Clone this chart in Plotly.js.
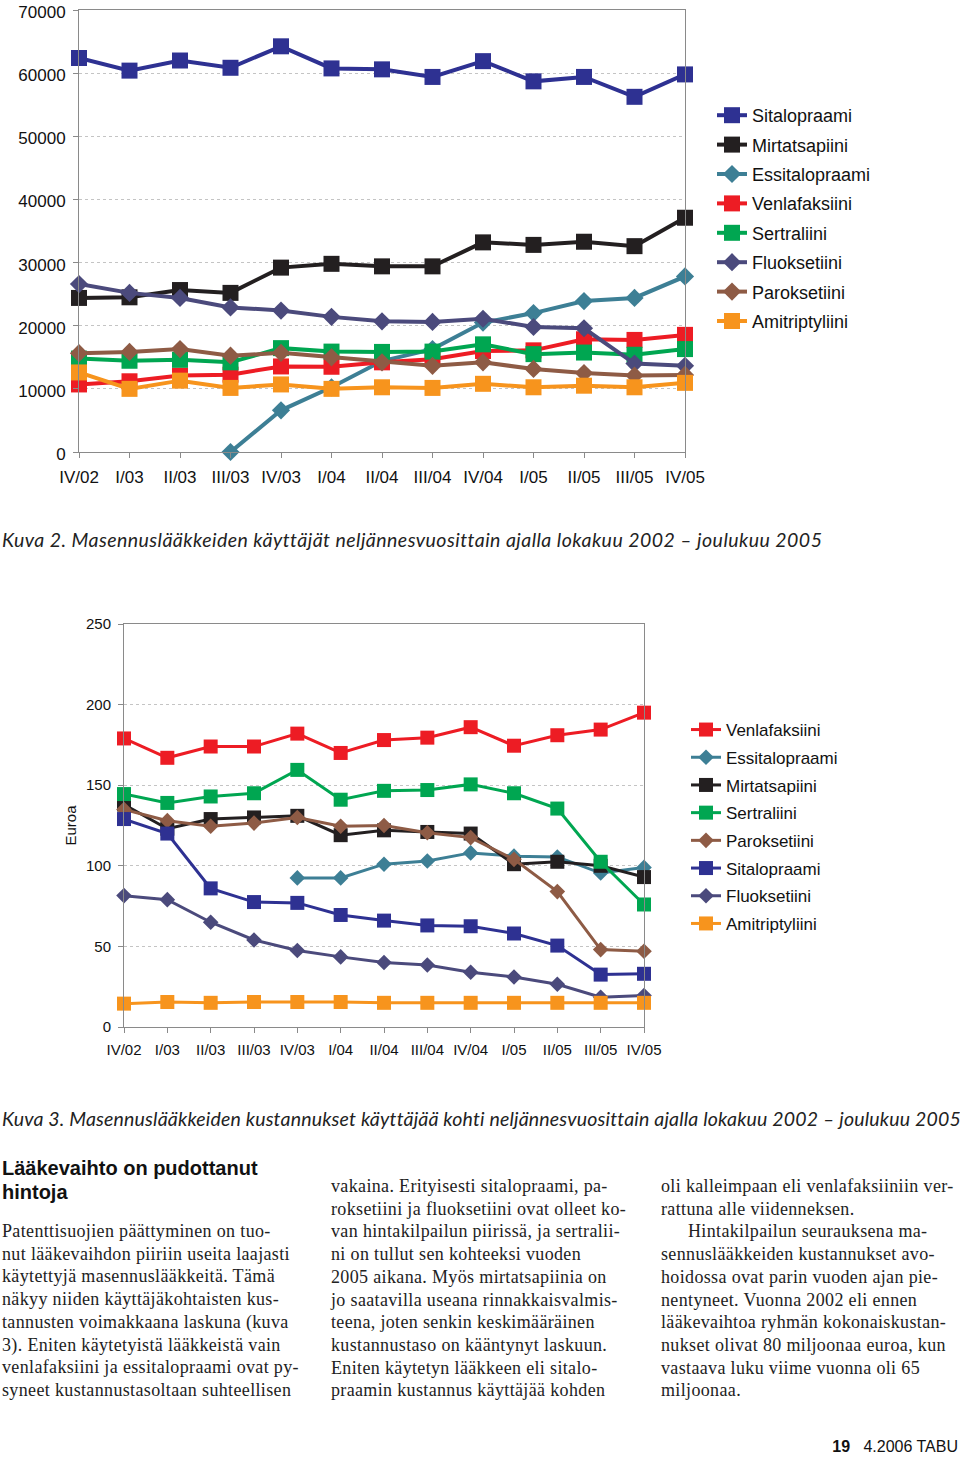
<!DOCTYPE html>
<html>
<head>
<meta charset="utf-8">
<script src="https://cdn.plot.ly/plotly-3.0.1.min.js"></script>
<style>
  html, body { margin:0; padding:0; background:#fff; }
  #page { position:relative; width:960px; height:1458px; overflow:hidden; background:#fff; }
  #plot { position:absolute; left:0; top:0; width:960px; height:1150px; }
  .cap { position:absolute; left:2px; font-family:"Lato","Open Sans",sans-serif; font-style:italic; font-size:19.5px; line-height:24px; color:#222; white-space:nowrap; }
  .head { position:absolute; left:2px; top:1156px; font-family:"Liberation Sans",Arial,sans-serif; font-weight:bold; font-size:20px; line-height:24px; color:#111; }
  .col { position:absolute; font-family:"Liberation Serif","Times New Roman",serif; font-size:18px; line-height:22.7px; letter-spacing:0.35px; color:#222; white-space:nowrap; }
  .col span { display:block; }
  .ind { padding-left:27px; }
  .foot { position:absolute; top:1436px; right:2px; font-family:"Liberation Sans",Arial,sans-serif; font-size:16px; line-height:22px; color:#111; }
</style>
</head>
<body>
<div id="page">
  <div id="plot"></div>
  <div class="cap" style="top:528px; letter-spacing:0.46px">Kuva 2. Masennuslääkkeiden käyttäjät neljännesvuosittain ajalla lokakuu 2002 – joulukuu 2005</div>
  <div class="cap" style="top:1107px; letter-spacing:0.18px">Kuva 3. Masennuslääkkeiden kustannukset käyttäjää kohti neljännesvuosittain ajalla lokakuu 2002 – joulukuu 2005</div>
  <div class="head">Lääkevaihto on pudottanut<br>hintoja</div>
  <div class="col" style="left:2px; top:1220px">
    <span>Patenttisuojien päättyminen on tuo-</span>
    <span>nut lääkevaihdon piiriin useita laajasti</span>
    <span>käytettyjä masennuslääkkeitä. Tämä</span>
    <span>näkyy niiden käyttäjäkohtaisten kus-</span>
    <span>tannusten voimakkaana laskuna (kuva</span>
    <span>3). Eniten käytetyistä lääkkeistä vain</span>
    <span>venlafaksiini ja essitalopraami ovat py-</span>
    <span>syneet kustannustasoltaan suhteellisen</span>
  </div>
  <div class="col" style="left:331px; top:1175px">
    <span>vakaina. Erityisesti sitalopraami, pa-</span>
    <span>roksetiini ja fluoksetiini ovat olleet ko-</span>
    <span>van hintakilpailun piirissä, ja sertralii-</span>
    <span>ni on tullut sen kohteeksi vuoden</span>
    <span>2005 aikana. Myös mirtatsapiinia on</span>
    <span>jo saatavilla useana rinnakkaisvalmis-</span>
    <span>teena, joten senkin keskimääräinen</span>
    <span>kustannustaso on kääntynyt laskuun.</span>
    <span>Eniten käytetyn lääkkeen eli sitalo-</span>
    <span>praamin kustannus käyttäjää kohden</span>
  </div>
  <div class="col" style="left:661px; top:1175px">
    <span>oli kalleimpaan eli venlafaksiiniin ver-</span>
    <span>rattuna alle viidenneksen.</span>
    <span class="ind">Hintakilpailun seurauksena ma-</span>
    <span>sennuslääkkeiden kustannukset avo-</span>
    <span>hoidossa ovat parin vuoden ajan pie-</span>
    <span>nentyneet. Vuonna 2002 eli ennen</span>
    <span>lääkevaihtoa ryhmän kokonaiskustan-</span>
    <span>nukset olivat 80 miljoonaa euroa, kun</span>
    <span>vastaava luku viime vuonna oli 65</span>
    <span>miljoonaa.</span>
  </div>
  <div class="foot"><b>19</b>&nbsp;&nbsp;&nbsp;4.2006 TABU</div>
</div>
<script>
// Quarter labels
const quarters = ['IV/02','I/03','II/03','III/03','IV/03','I/04','II/04','III/04','IV/04','I/05','II/05','III/05','IV/05'];

// Kuva 2: users per quarter
const sitUsers = [62400, 60400, 62000, 60850, 64250, 60750, 60600, 59400, 61900, 58700, 59400, 56250, 59800];
const mirUsers = [24400, 24500, 25650, 25200, 29200, 29800, 29400, 29400, 33200, 32800, 33300, 32600, 37100];
const essUsers = [null, null, null, 0, 6600, 10250, 14400, 16300, 20500, 22000, 23900, 24400, 27800];
const venUsers = [10700, 11200, 12100, 12250, 13550, 13500, 14200, 14700, 16000, 16100, 17850, 17750, 18550];
const serUsers = [14800, 14450, 14600, 14200, 16450, 15900, 15850, 15900, 17050, 15500, 15750, 15400, 16300];
const fluUsers = [26600, 25200, 24400, 22900, 22400, 21400, 20700, 20600, 21100, 19800, 19600, 14000, 13650];
const parUsers = [15650, 15850, 16300, 15250, 15700, 15000, 14200, 13650, 14200, 13150, 12500, 12100, 12200];
const amiUsers = [12600, 10000, 11300, 10150, 10700, 10000, 10250, 10150, 10800, 10250, 10500, 10250, 10950];

// Kuva 3: cost per user (euro)
const venCost = [179, 167, 174, 174, 182, 170, 178, 179.5, 186, 174.5, 181, 184.5, 195];
const essCost = [null, null, null, null, 92.5, 92.5, 101, 103, 108, 106, 105.5, 95.5, 99];
const mirCost = [138, 123, 129, 130, 131, 119, 122, 121, 120, 101, 102.5, 100, 93];
const serCost = [144.5, 139, 143, 145, 159.5, 141, 146.5, 147, 150.5, 145, 135.5, 102.5, 76];
const parCost = [135, 128, 124.5, 126.5, 130, 124.5, 125, 120.5, 117.5, 104, 84, 48, 47];
const sitCost = [129, 120, 86, 77.5, 77, 69.5, 66, 63, 62.5, 58, 50.5, 32.5, 33];
const fluCost = [81.5, 79, 65, 54, 47.5, 43.5, 40, 38.5, 34, 31, 26.5, 18.5, 19.5];
const amiCost = [14.5, 15.5, 15, 15.5, 15.5, 15.5, 15, 15, 15, 15, 15, 15, 15];

const colors = {
  Sitalopraami: '#2e3192', Mirtatsapiini: '#231f20', Essitalopraami: '#3d7f95',
  Venlafaksiini: '#ed1c24', Sertraliini: '#00a651', Fluoksetiini: '#4b4a7c',
  Paroksetiini: '#8e5b45', Amitriptyliini: '#f7941d'
};
const symbols = {
  Sitalopraami: 'square', Mirtatsapiini: 'square', Essitalopraami: 'diamond',
  Venlafaksiini: 'square', Sertraliini: 'square', Fluoksetiini: 'diamond',
  Paroksetiini: 'diamond', Amitriptyliini: 'square'
};
const xIdx = quarters.map((q, i) => i);

function tr(name, y, chart, rank) {
  const c1 = chart === 1;
  const sq = symbols[name] === 'square';
  return {
    type: 'scatter', mode: 'lines+markers', name: name, x: xIdx, y: y,
    xaxis: c1 ? 'x' : 'x2', yaxis: c1 ? 'y' : 'y2',
    legend: c1 ? 'legend' : 'legend2', legendgroup: name + chart, legendrank: rank,
    line: { color: colors[name], width: c1 ? 4 : 3 },
    marker: { color: colors[name], symbol: symbols[name], size: c1 ? (sq ? 16 : 14) : (sq ? 14 : 12) },
    cliponaxis: false, connectgaps: false, hoverinfo: 'skip'
  };
}

const data = [
  tr('Sitalopraami', sitUsers, 1, 1),
  tr('Mirtatsapiini', mirUsers, 1, 2),
  tr('Essitalopraami', essUsers, 1, 3),
  tr('Venlafaksiini', venUsers, 1, 4),
  tr('Sertraliini', serUsers, 1, 5),
  tr('Fluoksetiini', fluUsers, 1, 6),
  tr('Paroksetiini', parUsers, 1, 7),
  tr('Amitriptyliini', amiUsers, 1, 8),
  tr('Venlafaksiini', venCost, 2, 1),
  tr('Essitalopraami', essCost, 2, 2),
  tr('Mirtatsapiini', mirCost, 2, 3),
  tr('Sertraliini', serCost, 2, 4),
  tr('Paroksetiini', parCost, 2, 5),
  tr('Sitalopraami', sitCost, 2, 6),
  tr('Fluoksetiini', fluCost, 2, 7),
  tr('Amitriptyliini', amiCost, 2, 8)
];

const H = 1150;
const font = { family: 'Liberation Sans, Arial, sans-serif', color: '#111' };
const axisCommon = {
  showline: true, linecolor: '#8a8a8a', linewidth: 1, mirror: true,
  ticks: 'outside', tickcolor: '#8a8a8a', ticklen: 5, zeroline: false, fixedrange: true,
  ticklabeloverflow: 'allow'
};

const layout = {
  width: 960, height: H,
  margin: { l: 0, r: 0, t: 0, b: 0 },
  paper_bgcolor: '#fff', plot_bgcolor: '#fff',
  font: font,
  showlegend: true,
  xaxis: Object.assign({}, axisCommon, {
    domain: [79/960, 685/960], range: [0, 12], tickvals: xIdx, ticktext: quarters,
    showgrid: false, tickfont: { size: 17, color: '#111' }, anchor: 'y', ticklabelstandoff: 5
  }),
  yaxis: Object.assign({}, axisCommon, {
    domain: [1 - 452/H, 1 - 10/H], range: [0, 70000], dtick: 10000, tickformat: 'd',
    showgrid: true, gridcolor: '#c4c4c4', griddash: 'dot', gridwidth: 1,
    tickfont: { size: 17, color: '#111' }, anchor: 'x', ticklabelstandoff: 4, ticklabelshift: 2
  }),
  xaxis2: Object.assign({}, axisCommon, {
    domain: [124/960, 644/960], range: [0, 12], tickvals: xIdx, ticktext: quarters,
    showgrid: false, tickfont: { size: 15, color: '#111' }, anchor: 'y2', ticklabelstandoff: 4
  }),
  yaxis2: Object.assign({}, axisCommon, {
    domain: [1 - 1027/H, 1 - 624/H], range: [0, 250], dtick: 50,
    showgrid: true, gridcolor: '#c4c4c4', griddash: 'dot', gridwidth: 1,
    tickfont: { size: 15, color: '#111' }, anchor: 'x2', ticklabelstandoff: 4,
    title: { text: 'Euroa', font: { size: 15, color: '#111' }, standoff: 5 }
  }),
  legend: {
    x: 712/960, xanchor: 'left', y: 1 - 97/H, yanchor: 'top',
    traceorder: 'grouped', tracegroupgap: 3, font: { size: 18, color: '#111' },
    bgcolor: 'rgba(0,0,0,0)', borderwidth: 0
  },
  legend2: {
    x: 686/960, xanchor: 'left', y: 1 - 712/H, yanchor: 'top',
    traceorder: 'grouped', tracegroupgap: 2.6, font: { size: 17, color: '#111' },
    bgcolor: 'rgba(0,0,0,0)', borderwidth: 0
  }
};

Plotly.newPlot('plot', data, layout, { displayModeBar: false, staticPlot: true });
</script>
</body>
</html>
